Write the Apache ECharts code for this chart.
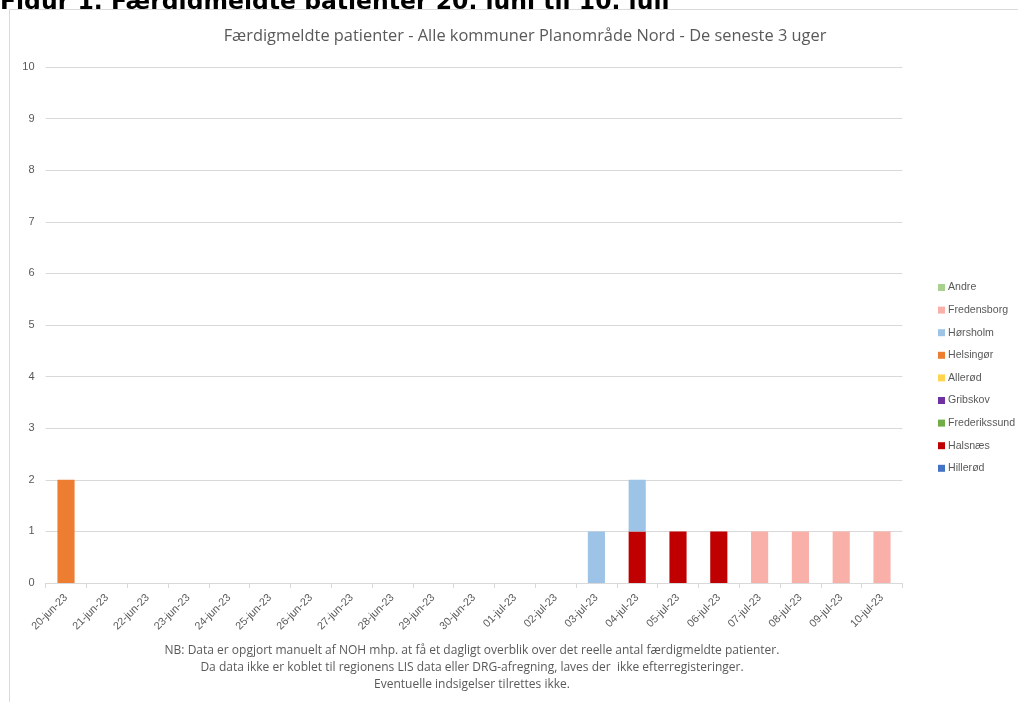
<!DOCTYPE html>
<html>
<head>
<meta charset="utf-8">
<script src="https://cdn.jsdelivr.net/npm/echarts@6/dist/echarts.min.js"></script>
<style>
html,body{margin:0;padding:0;background:#fff;overflow:hidden;}
#c{width:1018px;height:702px;}
</style>
</head>
<body>
<div id="c"></div>
<script>
var categories = ['20-jun-23','21-jun-23','22-jun-23','23-jun-23','24-jun-23','25-jun-23','26-jun-23','27-jun-23','28-jun-23','29-jun-23','30-jun-23','01-jul-23','02-jul-23','03-jul-23','04-jul-23','05-jul-23','06-jul-23','07-jul-23','08-jul-23','09-jul-23','10-jul-23'];
var hillerod     = [0,0,0,0,0,0,0,0,0,0,0,0,0,0,0,0,0,0,0,0,0];
var halsnaes     = [0,0,0,0,0,0,0,0,0,0,0,0,0,0,1,1,1,0,0,0,0];
var frederikssund= [0,0,0,0,0,0,0,0,0,0,0,0,0,0,0,0,0,0,0,0,0];
var gribskov     = [0,0,0,0,0,0,0,0,0,0,0,0,0,0,0,0,0,0,0,0,0];
var allerod      = [0,0,0,0,0,0,0,0,0,0,0,0,0,0,0,0,0,0,0,0,0];
var helsingor    = [2,0,0,0,0,0,0,0,0,0,0,0,0,0,0,0,0,0,0,0,0];
var horsholm     = [0,0,0,0,0,0,0,0,0,0,0,0,0,1,1,0,0,0,0,0,0];
var fredensborg  = [0,0,0,0,0,0,0,0,0,0,0,0,0,0,0,0,0,1,1,1,1];
var andre        = [0,0,0,0,0,0,0,0,0,0,0,0,0,0,0,0,0,0,0,0,0];
var yTicks = [0,1,2,3,4,5,6,7,8,9,10];

var header = 'Figur 1. Færdigmeldte patienter 20. juni til 10. juli';
var chartTitle = 'Færdigmeldte patienter - Alle kommuner Planområde Nord - De seneste 3 uger';
var notes = [
  'NB: Data er opgjort manuelt af NOH mhp. at få et dagligt overblik over det reelle antal færdigmeldte patienter.',
  'Da data ikke er koblet til regionens LIS data eller DRG-afregning, laves der  ikke efterregisteringer.',
  'Eventuelle indsigelser tilrettes ikke.'
];

var seriesDefs = [
  ['Hillerød', hillerod, '#4472c4'],
  ['Halsnæs', halsnaes, '#c00000'],
  ['Frederikssund', frederikssund, '#70ad47'],
  ['Gribskov', gribskov, '#7030a0'],
  ['Allerød', allerod, '#ffd54f'],
  ['Helsingør', helsingor, '#ed7d31'],
  ['Hørsholm', horsholm, '#9dc3e6'],
  ['Fredensborg', fredensborg, '#f8b0a8'],
  ['Andre', andre, '#a9d18e']
];
var legendOrder = seriesDefs.map(function(s){return s[0];}).reverse();

var FONT = "'Open Sans', 'Noto Sans', sans-serif";
var SMALL = "'Liberation Sans', Arial, sans-serif";

var chart = echarts.init(document.getElementById('c'));
chart.setOption({
  animation: false,
  backgroundColor: '#fff',
  textStyle: {fontFamily: FONT},
  title: {
    text: chartTitle,
    left: 520, top: 23, textAlign: 'center',
    textStyle: {fontFamily: FONT, fontSize: 16.4, fontWeight: 'normal', color: '#595959'}
  },
  legend: {
    orient: 'vertical',
    left: 933, top: 277,
    itemWidth: 7, itemHeight: 7, itemGap: 11.6,
    icon: 'rect',
    data: legendOrder,
    textStyle: {fontFamily: SMALL, fontSize: 10.6, color: '#595959', padding: [0,0,0,-2]}
  },
  grid: {left: 45.6, right: 1018 - 902.4, top: 67, bottom: 702 - 583},
  xAxis: {
    type: 'category',
    data: categories,
    axisLine: {lineStyle: {color: '#d9d9d9'}},
    axisTick: {show: true, length: 5, lineStyle: {color: '#d9d9d9'}},
    axisLabel: {rotate: 45, color: '#595959', fontSize: 10.8, fontFamily: SMALL, margin: 13, interval: 0}
  },
  yAxis: {
    type: 'value',
    min: 0, max: 10, interval: 1,
    axisLine: {show: false},
    axisTick: {show: false},
    axisLabel: {color: '#595959', fontSize: 11, fontFamily: SMALL, margin: 11},
    splitLine: {lineStyle: {color: '#d9d9d9', width: 1}}
  },
  graphic: [
    {type: 'text', left: 0, top: -9, z: -3, style: {text: header, font: "bold 23.5px 'DejaVu Sans', Verdana, sans-serif", fill: '#000'}},
    {type: 'rect', shape: {x: 9.5, y: 9.5, width: 1020, height: 700}, z: -2, style: {fill: '#fff', stroke: '#d9d9d9', lineWidth: 1}},
    {type: 'text', x: 472, y: 642, z: 5, style: {text: notes.join('\n'), font: "12px " + FONT, fill: '#595959', textAlign: 'center', lineHeight: 17}}
  ],
  series: seriesDefs.map(function(s){
    return {
      name: s[0], type: 'bar', stack: 'total', data: s[1],
      barWidth: '42%', itemStyle: {color: s[2]}, z: 3
    };
  })
});
</script>
</body>
</html>
